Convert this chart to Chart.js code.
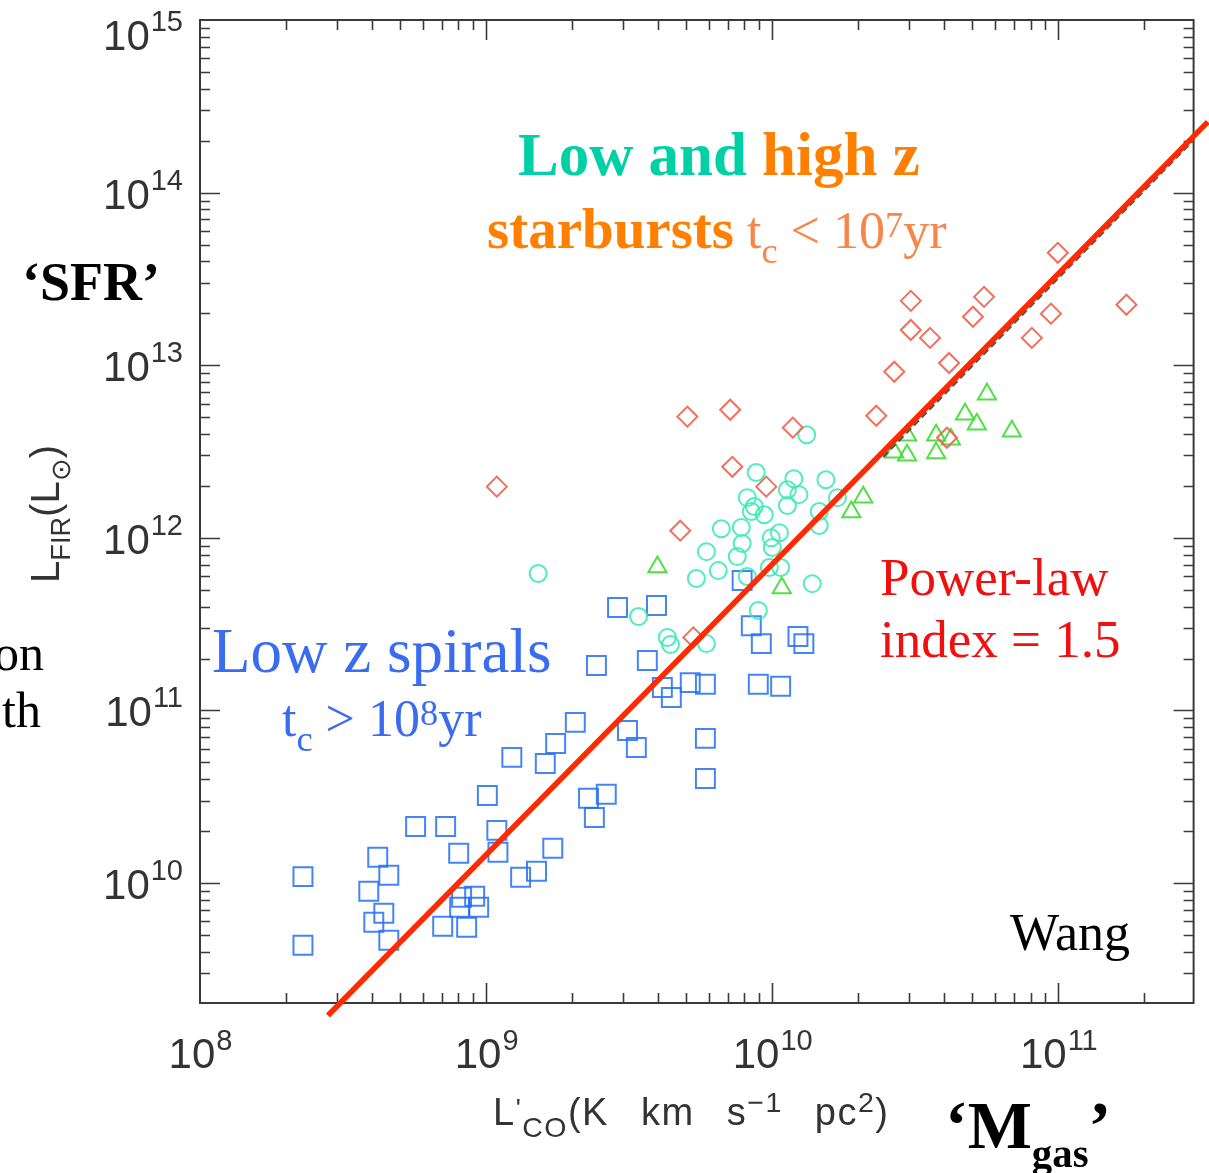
<!DOCTYPE html>
<html>
<head>
<meta charset="utf-8">
<script src="https://cdn.jsdelivr.net/npm/chart.js@4.4.1/dist/chart.umd.min.js"></script>
<style>
  html, body { margin: 0; padding: 0; background: #fff; }
  #wrap { position: relative; width: 1209px; height: 1173px; overflow: hidden; }
  #chart { position: absolute; left: 0; top: 0; }
  .t { position: absolute; white-space: nowrap; line-height: 1; font-family: "Liberation Serif", "Times New Roman", serif; }
  .b { font-weight: bold; }
  .sans { font-family: "Liberation Sans", Arial, sans-serif; color: #333; }
  .sp { font-size: 0.7em; position: relative; top: -0.3em; }
  .sb { font-size: 0.7em; position: relative; top: 0.42em; }
</style>
</head>
<body>
<div id="wrap">
  <canvas id="chart" width="1209" height="1173"></canvas>

  <div class="t b" style="left:518px; top:124px; font-size:61px;"><span style="color:#00d0a5">Low and</span> <span style="color:#ff8000">high z</span></div>
  <div class="t b" style="left:487px; top:200px; font-size:57px; color:#ff8000;">starbursts</div>
  <div class="t" style="left:747px; top:205px; font-size:52px; color:#f5874a;">t<span class="sb">c</span> &lt; 10<span class="sp">7</span>yr</div>

  <div class="t b" style="left:22px; top:255px; font-size:54px; color:#000;">‘SFR’</div>
  <div class="t" style="left:-6px; top:628px; font-size:50px; color:#000;">on</div>
  <div class="t" style="left:2px; top:685px; font-size:50px; color:#000;">th</div>

  <div class="t" style="left:212px; top:620px; font-size:63px; color:#3a6cf0;">Low z spirals</div>
  <div class="t" style="left:282px; top:693px; font-size:52px; color:#3a6cf0;">t<span class="sb">c</span> &gt; 10<span class="sp">8</span>yr</div>

  <div class="t" style="left:880px; top:551px; font-size:53px; color:#f01010;">Power-law</div>
  <div class="t" style="left:880px; top:613px; font-size:53px; color:#f01010;">index = 1.5</div>

  <div class="t" style="left:1010px; top:907px; font-size:52px; color:#000;">Wang</div>
  <div class="t b" style="left:945px; top:1091px; font-size:68px; color:#000;">‘M<span style="font-size:0.6em; position:relative; top:0.46em;">gas</span>’</div>

  <div class="t sans" style="left:45px; top:514px; font-size:40px; transform: translate(-50%,-50%) rotate(-90deg);">L<span class="sb" style="font-size:0.68em">FIR</span>(L<span class="sb" style="font-size:0.68em">⊙</span>)</div>
  <div class="t sans" style="left:493px; top:1093px; font-size:38px; letter-spacing:1.5px; word-spacing:20px;">L<span class="sp">'</span><span class="sb" style="font-size:0.75em">CO</span>(K km s<span class="sp" style="font-size:0.75em; top:-0.45em">−1</span> pc<span class="sp" style="font-size:0.75em; top:-0.45em">2</span>)</div>
</div>

<script>
// axis ranges and tick labels (powers of ten)
const xMin = 1e8, xMax = 2.97e11;
const yMin = 2.02e9, yMax = 1e15;
const xTickExps = [8, 9, 10, 11];
const yTickExps = [10, 11, 12, 13, 14, 15];

// low z spirals (blue squares)
const spiralX = [2.29e8, 2.29e8, 3.89e8, 4.18e8, 4.57e8, 4.05e8, 4.39e8, 4.57e8, 5.67e8, 7.22e8,
                 8.02e8, 7.05e8, 8.55e8, 8.21e8, 9.12e8, 8.08e8, 9.42e8, 1.01e9, 1.09e9, 1.10e9,
                 1.32e9, 1.50e9, 1.23e9, 1.61e9, 1.75e9, 1.71e9, 2.05e9, 2.28e9, 2.63e9, 2.39e9,
                 2.43e9, 2.88e9, 3.12e9, 3.35e9, 3.66e9, 3.94e9, 4.13e9, 4.44e9, 5.17e9, 5.84e9,
                 5.84e9, 5.84e9, 7.85e9, 8.45e9, 9.16e9, 8.94e9, 1.07e10, 1.23e10, 1.29e10];
const spiralY = [1.09e10, 4.37e9, 8.96e9, 1.41e10, 1.11e10, 5.93e9, 6.68e9, 4.67e9, 2.13e10, 2.13e10,
                 1.49e10, 5.62e9, 5.55e9, 8.27e9, 8.38e9, 7.24e9, 7.24e9, 3.22e10, 2.02e10, 1.51e10,
                 1.08e10, 1.17e10, 5.35e10, 4.93e10, 6.44e10, 1.59e10, 8.53e10, 3.10e10, 3.27e10, 2.40e10,
                 1.82e11, 3.95e11, 7.66e10, 6.11e10, 1.95e11, 4.06e11, 1.36e11, 1.19e11, 1.45e11, 1.42e11,
                 6.89e10, 4.04e10, 5.66e11, 3.10e11, 2.44e11, 1.42e11, 1.38e11, 2.68e11, 2.44e11];

// low z starbursts (cyan circles)
const lirgX = [1.52e9, 3.41e9, 4.30e9, 4.41e9, 5.89e9, 8.94e9, 5.43e9, 6.48e9, 8.18e9, 9.77e9,
               1.07e10, 1.38e10, 5.89e9, 7.55e9, 7.85e9, 1.00e10, 6.64e9, 7.80e9, 1.06e10, 9.92e9,
               1.46e10, 1.46e10, 1.13e10, 1.24e10, 1.13e10, 9.38e9, 8.45e9, 8.65e9, 8.18e9, 8.79e9,
               1.19e10, 1.54e10, 1.32e10, 1.69e10];
const lirgY = [6.21e11, 3.50e11, 2.65e11, 2.41e11, 2.44e11, 3.79e11, 5.81e11, 6.46e11, 5.97e11, 6.73e11,
               6.73e11, 5.43e11, 8.32e11, 7.79e11, 9.27e11, 8.79e11, 1.13e12, 1.15e12, 1.07e12, 1.00e12,
               1.18e12, 1.42e12, 1.54e12, 1.78e12, 1.90e12, 1.36e12, 1.42e12, 1.52e12, 1.71e12, 2.39e12,
               2.20e12, 2.17e12, 3.96e12, 1.71e12];

// starbursts (green triangles)
const triX = [3.97e9, 1.08e10, 1.89e10, 2.08e10, 2.96e10, 2.67e10, 2.96e10, 3.74e10, 3.74e10, 4.21e10,
              4.72e10, 5.19e10, 5.63e10, 6.88e10];
const triY = [6.77e11, 5.12e11, 1.41e12, 1.72e12, 3.93e12, 3.13e12, 3.01e12, 3.93e12, 3.10e12, 3.73e12,
              5.20e12, 4.55e12, 6.80e12, 4.15e12];

// high z starbursts (red diamonds)
const hizX = [1.09e9, 5.05e9, 7.13e9, 1.18e10, 7.25e9, 9.53e9, 4.77e9, 5.30e9, 2.31e10, 2.67e10,
              3.05e10, 3.05e10, 3.56e10, 4.15e10, 5.03e10, 5.50e10, 8.08e10, 9.42e10, 9.96e10, 1.73e11,
              4.08e10];
const hizY = [1.98e12, 5.04e12, 5.52e12, 4.35e12, 2.58e12, 1.98e12, 1.10e12, 2.65e11, 5.10e12, 9.17e12,
              2.36e13, 1.60e13, 1.44e13, 1.03e13, 1.91e13, 2.49e13, 1.44e13, 1.99e13, 4.48e13, 2.24e13,
              3.80e12];

// power-law fit, index = 1.5 (red), and the dashed fit just under it
const fitX = [2.80e8, 3.33e11];
const fitY = [1.71e9, 2.57e14];
const fitAltX = [2.44e10, 2.97e11];
const fitAltY = [2.95e12, 2.02e14];

function pts(xs, ys) {
    return xs.map((x, i) => ({ x: x, y: ys[i] }));
}

// IDL style frame: inward ticks on all four sides, labels as 10^n
const idlAxes = {
    id: 'idlAxes',
    beforeDatasetsDraw(chart) {
        const { ctx, chartArea: a, scales: { x, y } } = chart;
        ctx.save();
        ctx.strokeStyle = '#3a3a3a';
        ctx.lineWidth = 2;
        ctx.strokeRect(a.left, a.top, a.right - a.left, a.bottom - a.top);
        ctx.lineWidth = 1.6;
        ctx.beginPath();
        for (let e = 8; e <= 11; e++) {
            for (let m = 1; m <= 9; m++) {
                const v = m * Math.pow(10, e);
                if (v <= xMin || v >= xMax) continue;
                const px = Math.round(x.getPixelForValue(v)) + 0.5;
                const len = m === 1 ? 20 : 10;
                ctx.moveTo(px, a.bottom); ctx.lineTo(px, a.bottom - len);
                ctx.moveTo(px, a.top); ctx.lineTo(px, a.top + len);
            }
        }
        for (let e = 9; e <= 15; e++) {
            for (let m = 1; m <= 9; m++) {
                const v = m * Math.pow(10, e);
                if (v <= yMin || v >= yMax) continue;
                const py = Math.round(y.getPixelForValue(v)) + 0.5;
                const len = m === 1 ? 20 : 10;
                ctx.moveTo(a.left, py); ctx.lineTo(a.left + len, py);
                ctx.moveTo(a.right, py); ctx.lineTo(a.right - len, py);
            }
        }
        ctx.stroke();

        // tick labels
        const big = '42px "Liberation Sans", Arial, sans-serif';
        const small = '29px "Liberation Sans", Arial, sans-serif';
        ctx.fillStyle = '#333';
        ctx.textBaseline = 'alphabetic';
        ctx.textAlign = 'left';
        xTickExps.forEach(e => {
            const px = x.getPixelForValue(Math.pow(10, e));
            ctx.font = big; const w1 = ctx.measureText('10').width;
            ctx.font = small; const w2 = ctx.measureText(String(e)).width;
            const x0 = px - (w1 + w2) / 2;
            ctx.font = big; ctx.fillText('10', x0, a.bottom + 65);
            ctx.font = small; ctx.fillText(String(e), x0 + w1 + 1, a.bottom + 47);
        });
        yTickExps.forEach(e => {
            let py = y.getPixelForValue(Math.pow(10, e));
            if (py < a.top + 14) py = a.top + 14;
            ctx.font = small; const w2 = ctx.measureText(String(e)).width;
            const right = a.left - 17;
            ctx.fillText(String(e), right - w2, py - 3);
            ctx.font = big; const w1 = ctx.measureText('10').width;
            ctx.fillText('10', right - w2 - w1 - 1, py + 16);
        });
        ctx.restore();
    }
};

new Chart(document.getElementById('chart'), {
    type: 'scatter',
    data: {
        datasets: [
            {
                label: 'Power-law fit',
                data: pts(fitX, fitY),
                showLine: true,
                borderColor: '#ff2a00',
                borderWidth: 5.5,
                pointRadius: 0,
                clip: false
            },
            {
                label: 'fit (dashed)',
                data: pts(fitAltX, fitAltY),
                showLine: true,
                borderColor: '#555',
                borderWidth: 2.5,
                borderDash: [7, 4],
                pointRadius: 0,
                clip: false
            },
            {
                label: 'High z starbursts',
                data: pts(hizX, hizY),
                pointStyle: 'rectRot',
                pointRadius: 10,
                borderColor: 'rgba(240,95,75,0.9)',
                backgroundColor: 'rgba(0,0,0,0)',
                borderWidth: 2
            },
            {
                label: 'Starbursts',
                data: pts(triX, triY),
                pointStyle: 'triangle',
                pointRadius: 10.5,
                borderColor: 'rgba(70,222,60,0.95)',
                backgroundColor: 'rgba(0,0,0,0)',
                borderWidth: 2
            },
            {
                label: 'Low z starbursts',
                data: pts(lirgX, lirgY),
                pointStyle: 'circle',
                pointRadius: 8.5,
                borderColor: 'rgba(60,235,180,0.9)',
                backgroundColor: 'rgba(0,0,0,0)',
                borderWidth: 2
            },
            {
                label: 'Low z spirals',
                data: pts(spiralX, spiralY),
                pointStyle: 'rect',
                pointRadius: 13.4,
                borderColor: 'rgba(35,110,245,0.85)',
                backgroundColor: 'rgba(0,0,0,0)',
                borderWidth: 2
            }
        ]
    },
    options: {
        responsive: false,
        animation: false,
        devicePixelRatio: 1,
        layout: { padding: { left: 200, top: 20, right: 14, bottom: 170 } },
        plugins: { legend: { display: false }, tooltip: { enabled: false } },
        scales: {
            x: { type: 'logarithmic', min: xMin, max: xMax, display: false },
            y: { type: 'logarithmic', min: yMin, max: yMax, display: false }
        }
    },
    plugins: [idlAxes]
});
</script>
</body>
</html>
